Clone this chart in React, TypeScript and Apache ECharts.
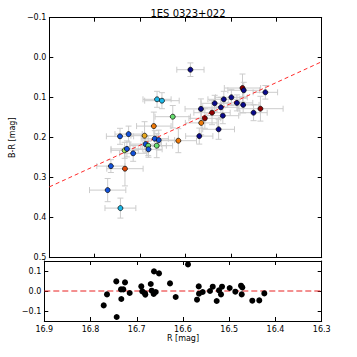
import React, { useEffect, useRef } from "react";
import * as echarts from "echarts";

// R magnitude of each observation
const rMag = [
  16.7715, 16.7644, 16.7443, 16.7434, 16.7341, 16.7334, 16.7291, 16.7254, 16.7153, 16.6902,
  16.688, 16.6822, 16.6815, 16.6698, 16.6677, 16.6634, 16.6627, 16.659, 16.6519, 16.6281,
  16.6158, 16.5892, 16.5697, 16.566, 16.5654, 16.5574, 16.5416, 16.5357, 16.5271, 16.5221,
  16.5178, 16.5156, 16.499, 16.4868, 16.4745, 16.473, 16.4717, 16.4501, 16.435, 16.4241,
];
// B-R colour of each observation
const bMinusR = [
  0.331, 0.271, 0.1965, 0.376, 0.2315, 0.2775, 0.228, 0.191, 0.239, 0.195,
  0.216, 0.22, 0.229, 0.171, 0.2025, 0.22, 0.104, 0.206, 0.1075, 0.1475,
  0.2075, 0.03, 0.196, 0.128, 0.163, 0.1515, 0.1375, 0.114, 0.179, 0.124,
  0.145, 0.104, 0.099, 0.113, 0.0758, 0.118, 0.0815, 0.1375, 0.1275, 0.0865,
];
const rErr = [
  0.04, 0.031, 0.03, 0.034, 0.03, 0.04, 0.035, 0.03, 0.03, 0.03,
  0.035, 0.04, 0.03, 0.038, 0.03, 0.035, 0.031, 0.035, 0.038, 0.039,
  0.04, 0.03, 0.03, 0.035, 0.035, 0.035, 0.04, 0.03, 0.035, 0.04,
  0.035, 0.035, 0.035, 0.035, 0.04, 0.035, 0.035, 0.03, 0.05, 0.027,
];
const bmrErr = [
  0.029, 0.016, 0.02, 0.025, 0.02, 0.043, 0.02, 0.02, 0.02, 0.035,
  0.02, 0.025, 0.02, 0.035, 0.02, 0.03, 0.02, 0.025, 0.02, 0.028,
  0.03, 0.017, 0.02, 0.025, 0.03, 0.025, 0.03, 0.02, 0.025, 0.025,
  0.02, 0.02, 0.02, 0.02, 0.035, 0.02, 0.02, 0.02, 0.031, 0.017,
];
// epoch group of each observation (mapped to a jet-like palette)
const epochGroup = [
  1, 1, 1, 2, 4, 7, 1, 1, 1, 5,
  1, 3, 1, 6, 1, 3, 2, 1, 2, 3,
  6, 0, 0, 0, 6, 8, 8, 0, 0, 0,
  0, 0, 0, 0, 8, 0, 0, 0, 8, 0,
];
// residuals of the linear fit
const residual = [
  -0.072, -0.017, 0.048, -0.13, 0.008, -0.04, 0.008, 0.043, -0.01, 0.023,
  -0.002, -0.012, -0.018, 0.035, 0.0015, -0.015, 0.098, -0.005, 0.088, 0.038,
  -0.03, 0.133, -0.0435, 0.023, -0.0135, -0.005, 0.0, 0.0215, -0.05, 0.003,
  -0.017, 0.0215, 0.015, -0.0035, 0.0265, -0.017, 0.018, -0.0485, -0.047, -0.012,
];
// fitted line end points
const fitX = [16.9, 16.3];
const fitY = [0.323, 0.01];

const xTicks = [16.3, 16.9];
const topYRange = [-0.1, 0.5];
const resYRange = [-0.15, 0.15];
const resYTicks = [-0.1, 0, 0.1];

const palette = [
  "#0a0a8c", "#1252dc", "#1cb8e8", "#66dd6e", "#a6e85a",
  "#e8a81c", "#f07a08", "#e04a08", "#900000",
];

const FONT = "DejaVu Sans";

const fmt1 = (v: number) => {
  if (Math.abs(v) < 1e-9) return "0.0";
  return (v < 0 ? "\u2212" : "") + Math.abs(v).toFixed(1);
};

export default function App() {
  const ref = useRef<HTMLDivElement>(null);
  useEffect(() => {
    if (!ref.current) return;
    const chart = echarts.init(ref.current, undefined, { renderer: "svg" });

    const L = 44.3;
    const W = 277.4;
    const grids = [
      { left: L, top: 17.7, width: W, height: 240 },
      { left: L, top: 261, width: W, height: 60 },
    ];

    const axisLine = { show: true, onZero: false, lineStyle: { color: "#000", width: 1 } };
    const tickIn = { show: true, inside: true, length: 4, lineStyle: { color: "#000", width: 1 } };
    const labelStyle = { fontFamily: FONT, fontSize: 8, color: "#000" };

    const xBase = (gridIndex: number, position: string, showLabel: boolean, extra: any = {}) => ({
      type: "value",
      gridIndex,
      position,
      min: xTicks[0],
      max: xTicks[1],
      interval: 0.1,
      inverse: true,
      axisLine,
      axisTick: tickIn,
      splitLine: { show: false },
      axisLabel: { show: showLabel, ...labelStyle, margin: 4, formatter: (v: number) => v.toFixed(1) },
      ...extra,
    });

    const yTop = (position: string, showLabel: boolean, extra: any = {}) => ({
      type: "value",
      gridIndex: 0,
      position,
      min: topYRange[0],
      max: topYRange[1],
      interval: 0.1,
      inverse: true,
      axisLine,
      axisTick: tickIn,
      splitLine: { show: false },
      axisLabel: { show: showLabel, ...labelStyle, margin: 3, formatter: fmt1 },
      ...extra,
    });

    const yRes = (position: string, showLabel: boolean) => ({
      type: "value",
      gridIndex: 1,
      position,
      min: resYRange[0],
      max: resYRange[1],
      axisLine,
      axisTick: { ...tickIn, customValues: resYTicks },
      splitLine: { show: false },
      axisLabel: { show: showLabel, ...labelStyle, margin: 3, formatter: fmt1, customValues: resYTicks },
    });

    const errData = rMag.map((x, i) => [x, bMinusR[i], rErr[i], bmrErr[i]]);
    const ptData = rMag.map((x, i) => [x, bMinusR[i], epochGroup[i]]);
    const resData = rMag.map((x, i) => [x, residual[i]]);
    const fitData = fitX.map((x, i) => [x, fitY[i]]);

    const errColor = "#cccccc";
    const cap = 3;

    chart.setOption({
      animation: false,
      backgroundColor: "#fff",
      title: {
        text: "1ES 0323+022",
        left: L + W / 2,
        textAlign: "center",
        top: 3,
        textStyle: { fontFamily: FONT, fontSize: 10, fontWeight: "normal", color: "#000" },
      },
      grid: grids,
      xAxis: [
        xBase(0, "bottom", false),
        xBase(0, "top", false),
        xBase(1, "bottom", true, {
          name: "R [mag]",
          nameLocation: "middle",
          nameGap: 13,
          nameTextStyle: { fontFamily: FONT, fontSize: 8, color: "#000" },
        }),
        xBase(1, "top", false),
      ],
      yAxis: [
        yTop("left", true, {
          name: "B-R [mag]",
          nameLocation: "middle",
          nameGap: 23,
          nameRotate: 90,
          nameTextStyle: { fontFamily: FONT, fontSize: 8, color: "#000" },
        }),
        yTop("right", false),
        yRes("left", true),
        yRes("right", false),
      ],
      series: [
        {
          type: "custom",
          xAxisIndex: 0,
          yAxisIndex: 0,
          z: 1,
          data: errData,
          encode: { x: 0, y: 1 },
          renderItem: (params: any, api: any) => {
            const x = api.value(0);
            const y = api.value(1);
            const xe = api.value(2);
            const ye = api.value(3);
            const l = api.coord([x - xe, y]);
            const r = api.coord([x + xe, y]);
            const t = api.coord([x, y - ye]);
            const b = api.coord([x, y + ye]);
            const style = { stroke: errColor, lineWidth: 1 };
            const ln = (x1: number, y1: number, x2: number, y2: number) => ({
              type: "line",
              shape: { x1, y1, x2, y2 },
              style,
            });
            return {
              type: "group",
              children: [
                ln(l[0], l[1], r[0], r[1]),
                ln(l[0], l[1] - cap, l[0], l[1] + cap),
                ln(r[0], r[1] - cap, r[0], r[1] + cap),
                ln(t[0], t[1], b[0], b[1]),
                ln(t[0] - cap, t[1], t[0] + cap, t[1]),
                ln(b[0] - cap, b[1], b[0] + cap, b[1]),
              ],
            };
          },
        },
        {
          type: "line",
          xAxisIndex: 0,
          yAxisIndex: 0,
          z: 2,
          data: fitData,
          symbol: "none",
          lineStyle: { color: "#ff2a2a", width: 1, type: [4, 3] },
        },
        {
          type: "scatter",
          xAxisIndex: 0,
          yAxisIndex: 0,
          z: 3,
          data: ptData,
          symbolSize: 5,
          itemStyle: {
            color: (p: any) => palette[p.value[2]],
            borderColor: "#000",
            borderWidth: 0.7,
            opacity: 1,
          },
        },
        {
          type: "line",
          xAxisIndex: 2,
          yAxisIndex: 2,
          z: 2,
          data: [[xTicks[1], 0], [xTicks[0], 0]],
          symbol: "none",
          lineStyle: { color: "#e82020", width: 1, type: [6, 3] },
        },
        {
          type: "scatter",
          xAxisIndex: 2,
          yAxisIndex: 2,
          z: 3,
          data: resData,
          symbolSize: 6,
          itemStyle: { color: "#000", opacity: 1 },
        },
      ],
    });
    return () => chart.dispose();
  }, []);
  return (
    <div
      ref={ref}
      style={{ position: "fixed", left: 0, top: 0, width: 357, height: 357, background: "#fff" }}
    />
  );
}
